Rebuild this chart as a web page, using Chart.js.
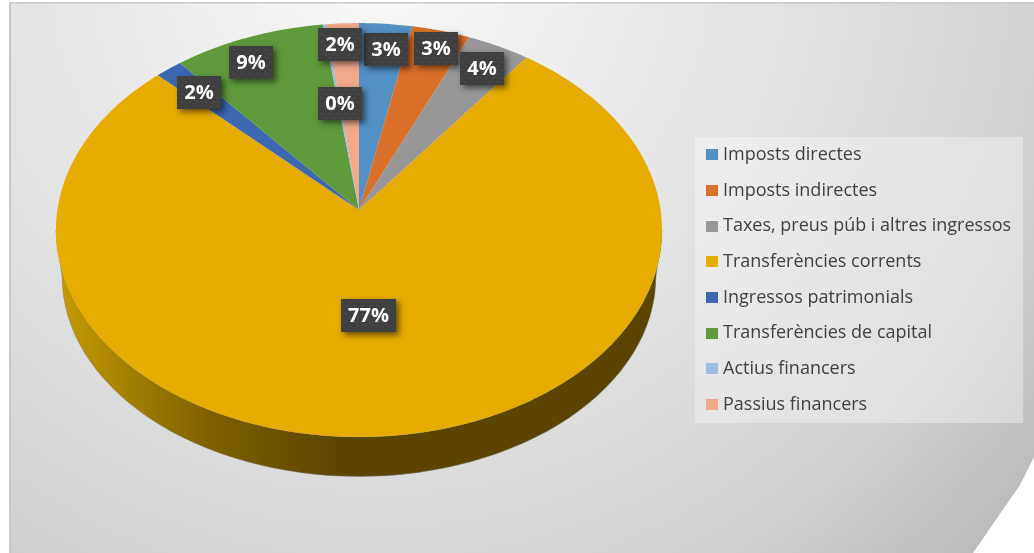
<!DOCTYPE html>
<html>
<head>
<meta charset="utf-8">
<style>html,body{margin:0;padding:0;background:#fff}canvas{display:block}</style>
<script src="https://cdn.jsdelivr.net/npm/chart.js@4"></script>
</head>
<body>
<canvas id="c" width="1034" height="553"></canvas>
<script>
const categories = ['Imposts directes','Imposts indirectes','Taxes, preus púb i altres ingressos','Transferències corrents','Ingressos patrimonials','Transferències de capital','Actius financers','Passius financers'];
const values = [3.1,3.4,3.7,77.1,1.6,8.9,0.2,1.9];
const colors = ['#5390C4','#D96F28','#979797','#E6AC00','#3C67B1','#5F9A3C','#9DBDE1','#F2A98B'];

// layout of the tilted pie (perspective projection of the library's arcs)
const apex = {x:359, y:210}, persp = {a:301.6, b:205, k:0.0966};
const wall = {cx:359, cy:276.5, rx:297, ry:200};
const labelCenters = [[386,49.5],[436,48.5],[482,68.5],[368.5,315.5],[199,92.5],[251,62.5],[340,103.5],[340,44.5]];
const project = th => {
  const w = 1 + persp.k*Math.cos(th);
  return [apex.x + persp.a*Math.sin(th)/w, apex.y - persp.b*Math.cos(th)/w];
};

function dotPattern(ctx){
  const p = document.createElement('canvas'); p.width = 8; p.height = 8;
  const g = p.getContext('2d');
  g.fillStyle = '#3f3f3f'; g.fillRect(0,0,8,8);
  g.fillStyle = '#494949'; g.fillRect(1,1,2,2); g.fillRect(5,5,2,2);
  return ctx.createPattern(p,'repeat');
}

const tiltedPie = {
  id:'tiltedPie',
  beforeDraw(chart){
    const ctx = chart.ctx;
    ctx.save();
    ctx.beginPath();
    ctx.moveTo(9,2); ctx.lineTo(1034,2); ctx.lineTo(1034,457); ctx.lineTo(1020,485); ctx.lineTo(973,553); ctx.lineTo(9,553); ctx.closePath();
    const g = ctx.createRadialGradient(380,-40,40,380,-40,850);
    g.addColorStop(0,'#f7f7f7'); g.addColorStop(0.45,'#e3e3e3'); g.addColorStop(0.8,'#d0d0d0'); g.addColorStop(1,'#bababa');
    ctx.fillStyle = g; ctx.fill();
    ctx.fillStyle = '#c8c8c8';
    ctx.fillRect(9,2,1025,1.5); ctx.fillRect(9,2,2,551);
    // legend panel
    ctx.fillStyle = 'rgba(255,255,255,0.35)';
    ctx.fillRect(695,137,328,286);
    ctx.restore();
  },
  beforeDatasetDraw(chart){
    const ctx = chart.ctx, arcs = chart.getDatasetMeta(0).data;
    ctx.save();
    // side wall
    const wg = ctx.createLinearGradient(56,0,662,0);
    wg.addColorStop(0,'#c89c00'); wg.addColorStop(0.12,'#a37f00'); wg.addColorStop(0.25,'#7f6100'); wg.addColorStop(0.47,'#5a4400'); wg.addColorStop(1,'#5a4400');
    ctx.beginPath();
    ctx.ellipse(359,230,303,207,0,0,Math.PI,false);
    ctx.ellipse(wall.cx,wall.cy,wall.rx,wall.ry,0,Math.PI,0,true);
    ctx.closePath();
    ctx.fillStyle = wg; ctx.fill();
    ctx.strokeStyle = 'rgba(130,130,130,0.45)'; ctx.lineWidth = 1; ctx.stroke();
    // top face, from the arcs the library computed
    arcs.forEach((arc,i)=>{
      const s = arc.startAngle + Math.PI/2, e = arc.endAngle + Math.PI/2;
      ctx.beginPath();
      ctx.moveTo(apex.x,apex.y);
      const n = Math.max(2,Math.ceil((e-s)/0.01));
      for(let j=0;j<=n;j++){ const q = project(s+(e-s)*j/n); ctx.lineTo(q[0],q[1]); }
      ctx.closePath();
      ctx.fillStyle = colors[i]; ctx.fill();
    });
    ctx.restore();
    return false;
  },
  afterDatasetsDraw(chart){
    const ctx = chart.ctx;
    const pat = dotPattern(ctx);
    ctx.save();
    values.forEach((v,i)=>{
      const txt = Math.round(v)+'%';
      const [cx,cy] = labelCenters[i];
      const w = txt.length>2 ? 55 : 44, h = 33;
      ctx.save();
      ctx.shadowColor='rgba(0,0,0,0.55)'; ctx.shadowBlur=6; ctx.shadowOffsetX=3; ctx.shadowOffsetY=3;
      ctx.fillStyle='#3f3f3f'; ctx.fillRect(cx-w/2,cy-h/2,w,h);
      ctx.restore();
      ctx.fillStyle=pat; ctx.fillRect(cx-w/2,cy-h/2,w,h);
      ctx.fillStyle='#ffffff'; ctx.font='bold 20px "Open Sans"';
      ctx.textAlign='center'; ctx.textBaseline='middle';
      ctx.fillText(txt,cx,cy+0.5);
    });
    // legend
    ctx.font='18px "Open Sans"'; ctx.textAlign='left'; ctx.textBaseline='middle';
    categories.forEach((c,i)=>{
      const y = 154.7 + i*35.7;
      ctx.fillStyle = colors[i]; ctx.fillRect(706,Math.round(y-5.5),12,11);
      ctx.fillStyle = '#404040'; ctx.fillText(c,723,y);
    });
    ctx.restore();
  }
};

new Chart(document.getElementById('c'),{
  type:'pie',
  data:{labels:categories,datasets:[{data:values,backgroundColor:colors,borderWidth:0}]},
  options:{responsive:false,animation:false,
    plugins:{legend:{display:false},tooltip:{enabled:false}}},
  plugins:[tiltedPie]
});
</script>
</body>
</html>
